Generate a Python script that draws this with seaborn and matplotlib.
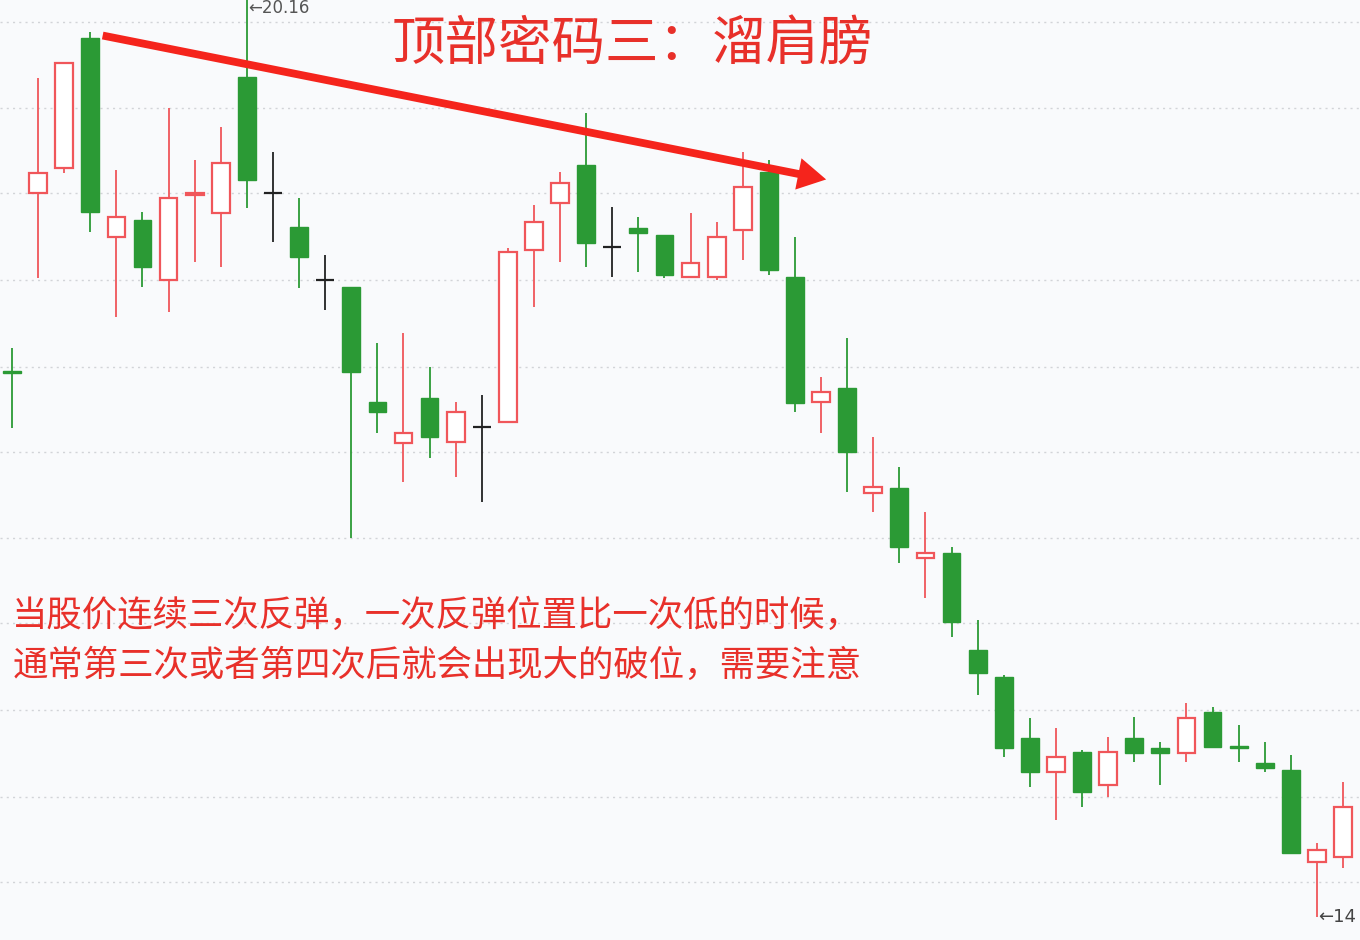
import matplotlib
matplotlib.use("Agg")
import matplotlib.pyplot as plt
import seaborn as sns
import numpy as np
import pandas as pd

# ---- data ----
opens  = [17.93, 19.00, 19.15, 19.93, 18.74, 18.84, 18.48, 18.99, 18.88, 19.70,
          19.00, 18.80, 18.48, 18.44, 17.75, 17.50, 17.77, 17.51, 17.60, 17.63,
          18.66, 18.94, 19.17, 18.68, 18.79, 18.75, 18.50, 18.50, 18.78, 19.13,
          18.50, 17.75, 17.83, 17.20, 17.23, 16.81, 16.84, 16.26, 16.10, 15.73,
          15.53, 15.65, 15.45, 15.73, 15.67, 15.64, 15.89, 15.68, 15.58, 15.54,
          14.99, 15.02]
highs  = [18.07, 19.69, 19.79, 19.97, 19.14, 18.89, 19.51, 19.20, 19.40, 20.16,
          19.25, 18.97, 18.63, 18.44, 18.10, 18.16, 17.96, 17.75, 17.79, 18.67,
          18.93, 19.13, 19.48, 18.92, 18.86, 18.75, 18.88, 18.83, 19.25, 19.20,
          18.74, 17.90, 18.13, 17.54, 17.36, 17.09, 16.88, 16.44, 16.11, 15.85,
          15.79, 15.66, 15.74, 15.86, 15.71, 15.94, 15.92, 15.81, 15.71, 15.63,
          15.10, 15.47]
lows   = [17.59, 18.49, 19.12, 18.77, 18.26, 18.44, 18.29, 18.59, 18.56, 18.91,
          18.71, 18.43, 18.30, 16.93, 17.56, 17.27, 17.41, 17.30, 17.15, 17.62,
          18.32, 18.59, 18.56, 18.50, 18.53, 18.49, 18.49, 18.48, 18.60, 18.51,
          17.69, 17.56, 17.21, 17.09, 16.78, 16.57, 16.34, 15.99, 15.62, 15.44,
          15.24, 15.32, 15.38, 15.59, 15.45, 15.59, 15.67, 15.59, 15.53, 15.04,
          14.66, 14.95]
closes = [17.92, 19.12, 19.78, 18.89, 18.86, 18.56, 18.97, 19.00, 19.18, 19.08,
          19.00, 18.62, 18.48, 17.93, 17.69, 17.56, 17.54, 17.69, 17.60, 18.65,
          18.83, 19.06, 18.70, 18.68, 18.76, 18.51, 18.58, 18.74, 19.04, 18.54,
          17.74, 17.81, 17.45, 17.24, 16.88, 16.84, 16.43, 16.12, 15.67, 15.53,
          15.62, 15.41, 15.65, 15.64, 15.64, 15.85, 15.68, 15.67, 15.55, 15.04,
          15.06, 15.32]
grid_levels = [20.03, 19.51, 19.00, 18.48, 17.96, 17.45, 16.93, 16.42, 15.90, 15.38, 14.87]
title_text = "顶部密码三：溜肩膀"
note_lines = ["当股价连续三次反弹，一次反弹位置比一次低的时候，",
              "通常第三次或者第四次后就会出现大的破位，需要注意"]
max_label = "←20.16"
min_label = "←14"

df = pd.DataFrame({"open": opens, "high": highs, "low": lows, "close": closes})
df["idx"] = np.arange(len(df))

UP = "#f0565a"
DOWN = "#2b9a35"
FLAT = "#222222"
BG = "#f9fafc"

sns.set_theme(style="white")
plt.rcParams["font.family"] = ["Noto Sans CJK SC", "DejaVu Sans"]

fig = plt.figure(figsize=(13.6, 9.4), dpi=100, facecolor=BG)
ax = fig.add_axes([0, 0, 1, 1])
ax.set_facecolor(BG)

ax.set_xlim(-0.46, 51.65)
ax.set_ylim(14.52, 20.16)

# dotted grid
for g in grid_levels:
    ax.axhline(g, color="#d2d4d8", lw=1.0, ls=(0, (1.5, 3)), zorder=0)

w = 0.68
for _, r in df.iterrows():
    x = r["idx"]; o = r["open"]; c = r["close"]; h = r["high"]; l = r["low"]
    top = max(o, c); bot = min(o, c)
    if c > o:
        col = UP
    elif c < o:
        col = DOWN
    else:
        col = FLAT
    lw_w = 1.3
    ax.vlines(x, top, h, color=col, lw=lw_w, zorder=2)
    ax.vlines(x, l, bot, color=col, lw=lw_w, zorder=2)
    if c == o:
        ax.hlines(o, x - w / 2, x + w / 2, color=col, lw=1.6, zorder=3)
    elif c > o:
        ax.bar(x, max(top - bot, 0.012), bottom=bot, width=w, facecolor="white",
               edgecolor=col, linewidth=1.6, zorder=3)
    else:
        ax.bar(x, max(top - bot, 0.012), bottom=bot, width=w, facecolor=col,
               edgecolor=col, linewidth=1.0, zorder=3)

# max / min labels
imax = int(np.argmax(highs)); imin = int(np.argmin(lows))
ax.text(imax + 0.05, highs[imax] - 0.045, max_label, color="#555555", fontsize=12,
        ha="left", va="center", family=["DejaVu Sans"])
ax.text(imin + 0.05, lows[imin], min_label, color="#444444", fontsize=13,
        ha="left", va="center", family=["DejaVu Sans"])

# red arrow
ax.annotate("", xy=(31.3, 19.08), xytext=(3.37, 19.95),
            arrowprops=dict(arrowstyle="simple,head_length=1.2,head_width=1.35,tail_width=0.33",
                            color="#f5241c", lw=0, mutation_scale=17), zorder=5)

ax.text(0.465, 0.952, title_text, transform=ax.transAxes, color="#e8302a",
        fontsize=38.5, ha="center", va="center", zorder=6)
ax.text(0.009, 0.345, note_lines[0], transform=ax.transAxes, color="#e8302a",
        fontsize=25.5, ha="left", va="center", zorder=6)
ax.text(0.009, 0.292, note_lines[1], transform=ax.transAxes, color="#e8302a",
        fontsize=25.5, ha="left", va="center", zorder=6)

ax.set_xticks([]); ax.set_yticks([])
for s in ax.spines.values():
    s.set_visible(False)

fig.savefig("out.png", dpi=100, facecolor=BG)
